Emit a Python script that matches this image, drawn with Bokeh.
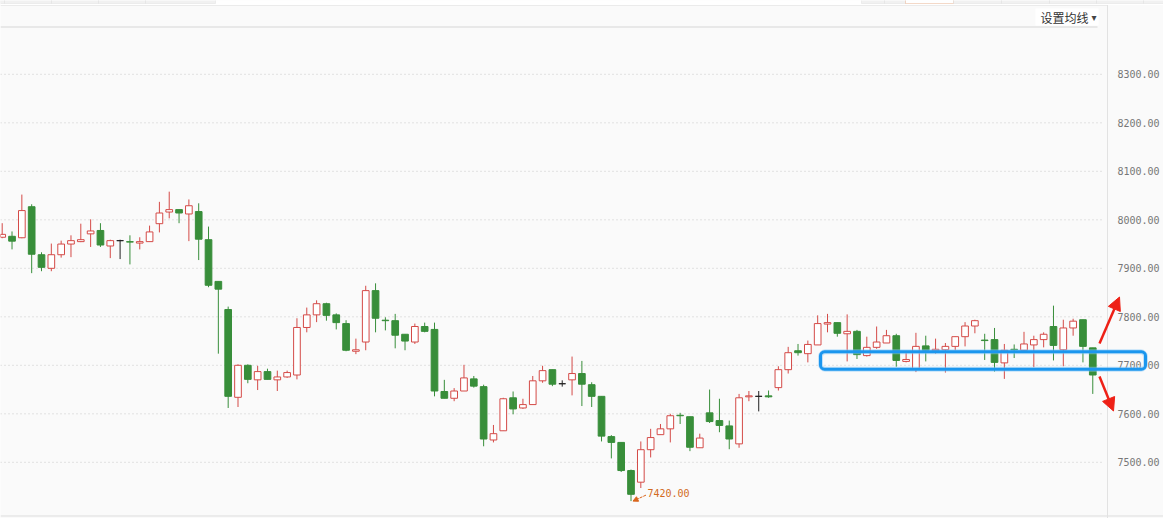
import numpy as np
from bokeh.plotting import figure
from bokeh.models import (ColumnDataSource, FixedTicker, PrintfTickFormatter, Range1d,
                          BoxAnnotation, Arrow, NormalHead, Label, LinearAxis)
from bokeh.embed import file_html
from bokeh.resources import INLINE

# ---------------- data ----------------
opens = [7964, 7966, 7963, 8027, 7928, 7900, 7928, 7950, 7955, 7971,
         7978, 7946, 7957, 7955, 7952, 7955, 7992, 8016, 8021, 8012,
         8017, 7959, 7873, 7815, 7634, 7700, 7670, 7687, 7670, 7676,
         7680, 7778, 7804, 7827, 7804, 7786, 7729, 7748, 7854, 7793,
         7792, 7764, 7748, 7780, 7774, 7646, 7632, 7647, 7672, 7656,
         7546, 7565, 7633, 7612, 7619, 7668, 7691, 7662, 7670, 7683,
         7660, 7636, 7553, 7541, 7483, 7459, 7526, 7557, 7569, 7597,
         7594, 7530, 7602, 7586, 7575, 7538, 7635, 7636, 7637, 7654,
         7691, 7730, 7724, 7742, 7785, 7788, 7765, 7770, 7720, 7737,
         7746, 7761, 7708, 7693, 7740, 7730, 7732, 7739, 7759, 7781,
         7752, 7753, 7705, 7733, 7731, 7742, 7753, 7780, 7732, 7777,
         7794, 7736]
highs = [7993, 7976, 8052, 8032, 7933, 7951, 7957, 7968, 7992, 8001,
         7993, 7959, 7959, 7968, 7964, 7988, 8037, 8058, 8021, 8042,
         8034, 7986, 7873, 7821, 7702, 7702, 7699, 7693, 7689, 7689,
         7797, 7819, 7834, 7829, 7807, 7793, 7755, 7864, 7869, 7799,
         7806, 7764, 7786, 7788, 7788, 7670, 7653, 7701, 7678, 7660,
         7577, 7633, 7646, 7631, 7678, 7699, 7691, 7669, 7718, 7709,
         7665, 7636, 7556, 7541, 7485, 7543, 7569, 7579, 7600, 7602,
         7594, 7559, 7650, 7631, 7586, 7641, 7647, 7647, 7648, 7698,
         7738, 7744, 7751, 7803, 7806, 7788, 7805, 7773, 7759, 7780,
         7773, 7765, 7726, 7767, 7761, 7755, 7746, 7759, 7789, 7794,
         7765, 7777, 7744, 7743, 7769, 7761, 7768, 7823, 7794, 7796,
         7794, 7736]
lows = [7962, 7939, 7962, 7890, 7894, 7894, 7922, 7923, 7954, 7944,
        7944, 7921, 7919, 7908, 7939, 7955, 7974, 8003, 7993, 7956,
        7917, 7861, 7724, 7612, 7614, 7663, 7649, 7671, 7647, 7674,
        7671, 7768, 7789, 7792, 7774, 7729, 7723, 7731, 7768, 7772,
        7735, 7731, 7744, 7768, 7636, 7632, 7626, 7647, 7654, 7533,
        7541, 7565, 7599, 7610, 7619, 7664, 7657, 7656, 7638, 7616,
        7614, 7543, 7508, 7480, 7420, 7447, 7510, 7557, 7541, 7579,
        7523, 7530, 7581, 7562, 7527, 7530, 7626, 7605, 7633, 7648,
        7683, 7720, 7706, 7742, 7768, 7759, 7708, 7713, 7718, 7734,
        7746, 7697, 7706, 7686, 7708, 7724, 7685, 7731, 7739, 7766,
        7711, 7687, 7672, 7715, 7726, 7696, 7737, 7710, 7698, 7761,
        7706, 7641]
closes = [7970, 7956, 8019, 7929, 7902, 7928, 7950, 7957, 7959, 7977,
          7948, 7957, 7957, 7954, 7955, 7975, 8014, 8021, 8014, 8029,
          7960, 7865, 7857, 7636, 7700, 7671, 7687, 7671, 7676, 7685,
          7778, 7804, 7827, 7803, 7788, 7731, 7732, 7854, 7797, 7792,
          7762, 7750, 7780, 7770, 7647, 7632, 7647, 7674, 7657, 7548,
          7559, 7631, 7610, 7619, 7668, 7689, 7661, 7662, 7683, 7661,
          7636, 7554, 7541, 7483, 7434, 7526, 7551, 7569, 7596, 7596,
          7531, 7550, 7584, 7576, 7548, 7633, 7637, 7636, 7635, 7691,
          7726, 7726, 7743, 7786, 7788, 7766, 7770, 7722, 7737, 7748,
          7761, 7710, 7712, 7739, 7731, 7733, 7739, 7759, 7781, 7792,
          7751, 7706, 7731, 7732, 7744, 7753, 7764, 7741, 7777, 7791,
          7739, 7680]
y_ticks = [7500, 7600, 7700, 7800, 7900, 8000, 8100, 8200, 8300]
menu_text = "设置均线"

# ---------------- colours ----------------
UP = "#d44a47"
DOWN = "#388e3a"
FLAT = "#222222"
BG = "#fafafa"

# ---------------- geometry (pixels of the reference) ----------------
W, H = 1163, 518
AXIS_PX = 1107         # px of the price-axis line
STEP = 9.825           # px per candle
X0 = 1.7               # px of first candle centre
PX_PER_PT = 0.485      # px per price point
Y8000 = 219.3          # px of the 8000 level

x_start = -X0 / STEP
x_end = x_start + W / STEP
y_end = 8000 + Y8000 / PX_PER_PT
y_start = y_end - H / PX_PER_PT


def px_x(px):
    return x_start + px / STEP


def px_y(py):
    return y_end - py / PX_PER_PT


n = len(opens)
idx = list(range(n))
colors, fills = [], []
for o, c in zip(opens, closes):
    if c > o:
        colors.append(UP); fills.append("#ffffff")
    elif c < o:
        colors.append(DOWN); fills.append(DOWN)
    else:
        colors.append(FLAT); fills.append(FLAT)

src = ColumnDataSource(dict(
    x=idx, open=opens, high=highs, low=lows, close=closes,
    top=[max(o, c) for o, c in zip(opens, closes)],
    bottom=[min(o, c) for o, c in zip(opens, closes)],
    color=colors, fill=fills))

p = figure(width=W, height=H,
           x_range=Range1d(x_start, x_end), y_range=Range1d(y_start, y_end),
           x_axis_location=None, y_axis_location=None,
           output_backend="svg", toolbar_location=None,
           min_border=0,
           background_fill_color=BG, border_fill_color=BG,
           outline_line_color=None)
p.grid.visible = False

# price axis (fixed inside the frame, labels to its right)
ax = LinearAxis(fixed_location=px_x(AXIS_PX))
ax.ticker = FixedTicker(ticks=y_ticks)
ax.formatter = PrintfTickFormatter(format="%.2f")
ax.major_tick_line_color = None
ax.minor_tick_line_color = None
ax.major_tick_out = 0
ax.major_tick_in = 0
ax.major_label_standoff = 10
ax.axis_line_color = "#e2e2e2"
ax.major_label_text_font = "DejaVu Sans Mono"
ax.major_label_text_font_size = "10px"
ax.major_label_text_color = "#777777"
p.add_layout(ax, "right")

# dotted price grid (stops before the axis)
p.segment(x0=[px_x(0)] * len(y_ticks), y0=y_ticks, x1=[px_x(1101)] * len(y_ticks), y1=y_ticks,
          line_color="#c9c9c9", line_dash="1 3", line_width=1)

# header decorations
p.add_layout(BoxAnnotation(left=px_x(-2), right=px_x(1170), top=px_y(-2), bottom=px_y(4.5),
                           fill_color="#ffffff", fill_alpha=1, line_color=None))
for edges in ([0, 4, 51, 98, 145, 215], [861, 884, 905, 953, 1001, 1049, 1096, 1143, 1163]):
    for a, b in zip(edges[:-1], edges[1:]):
        orange = (a == 905)
        p.add_layout(BoxAnnotation(left=px_x(a), right=px_x(b), top=px_y(-3), bottom=px_y(3),
                                   fill_color="#ffffff" if orange else "#f1f1f1", fill_alpha=1,
                                   line_color="#d98048" if orange else "#cfcfcf", line_width=1))
p.segment(x0=[px_x(0)], y0=[px_y(4.5)], x1=[px_x(AXIS_PX)], y1=[px_y(4.5)],
          line_color="#dcdcdc", line_width=1)
p.segment(x0=[px_x(0)], y0=[px_y(26.5)], x1=[px_x(1097)], y1=[px_y(26.5)],
          line_color="#e8e8e8", line_width=2)
p.segment(x0=[px_x(0)], y0=[px_y(515.5)], x1=[px_x(W)], y1=[px_y(515.5)],
          line_color="#dddddd", line_width=1)
p.add_layout(BoxAnnotation(left=px_x(1035), right=px_x(1098), top=px_y(8), bottom=px_y(25),
                           fill_color="#ffffff", fill_alpha=1, line_color=None))
p.add_layout(Label(x=px_x(1040), y=px_y(16.5), text=menu_text, text_font="Noto Sans CJK SC",
                   text_font_size="12px", text_color="#333333", text_baseline="middle"))
p.add_layout(Label(x=px_x(1091), y=px_y(16.5), text="▾", text_font="DejaVu Sans",
                   text_font_size="10px", text_color="#444444", text_baseline="middle"))

# candles
p.segment(x0="x", y0="high", x1="x", y1="low", line_color="color", line_width=1, source=src)
p.vbar(x="x", width=0.68, top="top", bottom="bottom", fill_color="fill",
       line_color="color", line_width=1, source=src)

# low annotation
li = int(np.argmin(lows))
low_v = lows[li]
p.add_layout(Arrow(end=NormalHead(size=5, fill_color="#d9651c", line_color="#d9651c"),
                   x_start=li + 15 / STEP, y_start=low_v + 6 / PX_PER_PT,
                   x_end=li + 2 / STEP, y_end=low_v,
                   line_color="#d9651c", line_width=1, line_dash="3 1"))
p.add_layout(Label(x=li + 16.5 / STEP, y=low_v + 8 / PX_PER_PT, text=f"{low_v:.2f}",
                   text_font="DejaVu Sans Mono", text_font_size="10px", text_color="#d26a1e",
                   text_baseline="middle"))

# highlight box + arrows
p.add_layout(BoxAnnotation(left=px_x(820), right=px_x(1145), top=px_y(351.3), bottom=px_y(368.7),
                           fill_alpha=0, line_color="#8ccaf8", line_width=5, line_alpha=0.5,
                           border_radius=5))
p.add_layout(BoxAnnotation(left=px_x(820), right=px_x(1145), top=px_y(351.3), bottom=px_y(368.7),
                           fill_alpha=0, line_color="#1b96ee", line_width=3, line_alpha=1,
                           border_radius=4))
for (xs, ys, xe, ye) in [(1099, 343, 1119, 296.5), (1099, 376, 1113, 410.5)]:
    p.add_layout(Arrow(end=NormalHead(size=13, fill_color="#ee2016", line_color="#ee2016"),
                       x_start=px_x(xs), y_start=px_y(ys), x_end=px_x(xe), y_end=px_y(ye),
                       line_color="#ee2016", line_width=2.5))

open("out.html", "w").write(file_html(p, INLINE))
